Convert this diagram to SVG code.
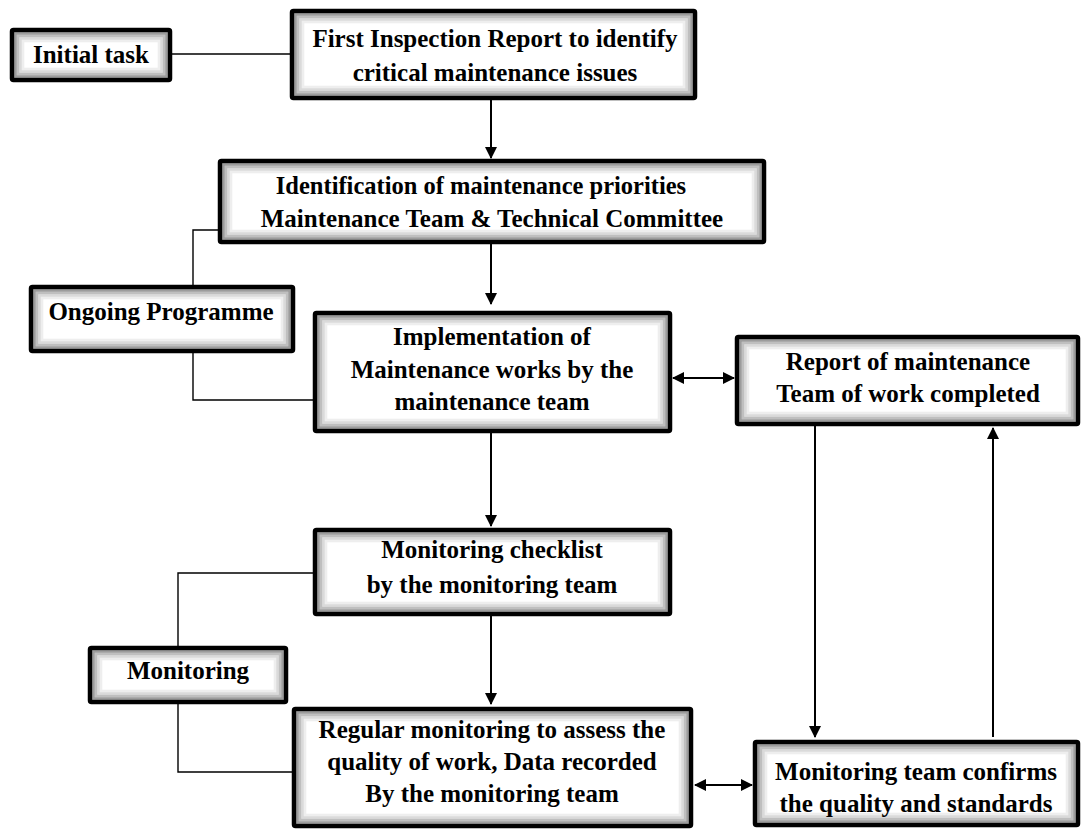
<svg xmlns="http://www.w3.org/2000/svg" width="1082" height="830" viewBox="0 0 1082 830">
  <defs>
    <style>
      .box-fill { fill: #ffffff; stroke: none; }
      .box-edge { fill: none; stroke: #000; stroke-width: 4.5; }
      /* graded inner shading: darker next to the frame, fading towards the centre */
      .sh1 { fill: none; stroke: #9c9c9c; stroke-width: 2.6; }
      .sh2 { fill: none; stroke: #bfbfbf; stroke-width: 2.6; }
      .sh3 { fill: none; stroke: #dadada; stroke-width: 2.6; }
      .sh4 { fill: none; stroke: #eeeeee; stroke-width: 2.6; }
      .label { font-family: "Liberation Serif", "Times New Roman", serif; font-weight: bold; font-size: 25px; fill: #000; text-anchor: middle; }
      .link { fill: none; stroke: #000; stroke-width: 1.4; }
      .flow { fill: none; stroke: #000; stroke-width: 2; }
    </style>
    <marker id="head" viewBox="0 0 12 12" refX="11" refY="6" markerWidth="12" markerHeight="12" markerUnits="userSpaceOnUse" orient="auto-start-reverse">
      <path d="M0,0 L12,6 L0,12 Z" fill="#000"/>
    </marker>
  </defs>

  <rect width="1082" height="830" fill="#ffffff"/>

  <!-- connectors -->
  <g id="connectors">
    <line class="link" x1="172" y1="54" x2="290" y2="54"/>
    <line class="flow" x1="491" y1="100" x2="491" y2="158" marker-end="url(#head)"/>
    <line class="flow" x1="491" y1="244" x2="491" y2="304" marker-end="url(#head)"/>
    <polyline class="link" points="218,230 193,230 193,285"/>
    <polyline class="link" points="193,353 193,400 313,400"/>
    <line class="flow" x1="673" y1="378" x2="734" y2="378" marker-start="url(#head)" marker-end="url(#head)"/>
    <line class="flow" x1="491" y1="433" x2="491" y2="526" marker-end="url(#head)"/>
    <line class="flow" x1="491" y1="616" x2="491" y2="704" marker-end="url(#head)"/>
    <polyline class="link" points="313,573 178,573 178,646"/>
    <polyline class="link" points="178,704 178,772 292,772"/>
    <line class="flow" x1="815" y1="426" x2="815" y2="737" marker-end="url(#head)"/>
    <line class="flow" x1="993" y1="737" x2="993" y2="428" marker-end="url(#head)"/>
    <line class="flow" x1="695" y1="785" x2="752" y2="785" marker-start="url(#head)" marker-end="url(#head)"/>
  </g>

  <!-- nodes -->
  <g id="initial-task">
    <rect class="box-fill" x="12" y="30" width="158" height="50"/>
    <rect class="sh4" x="23" y="41" width="136" height="28"/>
    <rect class="sh3" x="20.5" y="38.5" width="141" height="33"/>
    <rect class="sh2" x="18" y="36" width="146" height="38"/>
    <rect class="sh1" x="15.5" y="33.5" width="151" height="43"/>
    <rect class="box-edge" x="12" y="30" width="158" height="50" rx="1.5"/>
    <text class="label" x="91" y="63">Initial task</text>
  </g>

  <g id="first-inspection">
    <rect class="box-fill" x="292" y="11" width="403" height="87"/>
    <rect class="sh4" x="303" y="22" width="381" height="65"/>
    <rect class="sh3" x="300.5" y="19.5" width="386" height="70"/>
    <rect class="sh2" x="298" y="17" width="391" height="75"/>
    <rect class="sh1" x="295.5" y="14.5" width="396" height="80"/>
    <rect class="box-edge" x="292" y="11" width="403" height="87" rx="1.5"/>
    <text class="label" x="495" y="47">First Inspection Report to identify</text>
    <text class="label" x="495" y="81">critical maintenance issues</text>
  </g>

  <g id="priorities">
    <rect class="box-fill" x="220" y="161" width="544" height="81"/>
    <rect class="sh4" x="231" y="172" width="522" height="59"/>
    <rect class="sh3" x="228.5" y="169.5" width="527" height="64"/>
    <rect class="sh2" x="226" y="167" width="532" height="69"/>
    <rect class="sh1" x="223.5" y="164.5" width="537" height="74"/>
    <rect class="box-edge" x="220" y="161" width="544" height="81" rx="1.5"/>
    <text class="label" x="481" y="194" style="font-size:24.5px">Identification of maintenance priorities</text>
    <text class="label" x="492" y="227">Maintenance Team &amp; Technical Committee</text>
  </g>

  <g id="ongoing-programme">
    <rect class="box-fill" x="31" y="287" width="262" height="64"/>
    <rect class="sh4" x="42" y="298" width="240" height="42"/>
    <rect class="sh3" x="39.5" y="295.5" width="245" height="47"/>
    <rect class="sh2" x="37" y="293" width="250" height="52"/>
    <rect class="sh1" x="34.5" y="290.5" width="255" height="57"/>
    <rect class="box-edge" x="31" y="287" width="262" height="64" rx="1.5"/>
    <text class="label" x="161" y="320">Ongoing Programme</text>
  </g>

  <g id="implementation">
    <rect class="box-fill" x="315" y="313" width="355" height="118"/>
    <rect class="sh4" x="326" y="324" width="333" height="96"/>
    <rect class="sh3" x="323.5" y="321.5" width="338" height="101"/>
    <rect class="sh2" x="321" y="319" width="343" height="106"/>
    <rect class="sh1" x="318.5" y="316.5" width="348" height="111"/>
    <rect class="box-edge" x="315" y="313" width="355" height="118" rx="1.5"/>
    <text class="label" x="492" y="345">Implementation of</text>
    <text class="label" x="492" y="378">Maintenance works by the</text>
    <text class="label" x="492" y="410">maintenance team</text>
  </g>

  <g id="work-report">
    <rect class="box-fill" x="737" y="337" width="341" height="87"/>
    <rect class="sh4" x="748" y="348" width="319" height="65"/>
    <rect class="sh3" x="745.5" y="345.5" width="324" height="70"/>
    <rect class="sh2" x="743" y="343" width="329" height="75"/>
    <rect class="sh1" x="740.5" y="340.5" width="334" height="80"/>
    <rect class="box-edge" x="737" y="337" width="341" height="87" rx="1.5"/>
    <text class="label" x="908" y="370">Report of maintenance</text>
    <text class="label" x="908" y="402">Team of work completed</text>
  </g>

  <g id="checklist">
    <rect class="box-fill" x="315" y="530" width="355" height="84"/>
    <rect class="sh4" x="326" y="541" width="333" height="62"/>
    <rect class="sh3" x="323.5" y="538.5" width="338" height="67"/>
    <rect class="sh2" x="321" y="536" width="343" height="72"/>
    <rect class="sh1" x="318.5" y="533.5" width="348" height="77"/>
    <rect class="box-edge" x="315" y="530" width="355" height="84" rx="1.5"/>
    <text class="label" x="492" y="558">Monitoring checklist</text>
    <text class="label" x="492" y="593">by the monitoring team</text>
  </g>

  <g id="monitoring">
    <rect class="box-fill" x="90" y="648" width="196" height="54"/>
    <rect class="sh4" x="101" y="659" width="174" height="32"/>
    <rect class="sh3" x="98.5" y="656.5" width="179" height="37"/>
    <rect class="sh2" x="96" y="654" width="184" height="42"/>
    <rect class="sh1" x="93.5" y="651.5" width="189" height="47"/>
    <rect class="box-edge" x="90" y="648" width="196" height="54" rx="1.5"/>
    <text class="label" x="188" y="679">Monitoring</text>
  </g>

  <g id="regular-monitoring">
    <rect class="box-fill" x="294" y="709" width="397" height="117"/>
    <rect class="sh4" x="305" y="720" width="375" height="95"/>
    <rect class="sh3" x="302.5" y="717.5" width="380" height="100"/>
    <rect class="sh2" x="300" y="715" width="385" height="105"/>
    <rect class="sh1" x="297.5" y="712.5" width="390" height="110"/>
    <rect class="box-edge" x="294" y="709" width="397" height="117" rx="1.5"/>
    <text class="label" x="492" y="738">Regular monitoring to assess the</text>
    <text class="label" x="492" y="770">quality of work, Data recorded</text>
    <text class="label" x="492" y="802">By the monitoring team</text>
  </g>

  <g id="quality-confirmed">
    <rect class="box-fill" x="755" y="742" width="323" height="83"/>
    <rect class="sh4" x="766" y="753" width="301" height="61"/>
    <rect class="sh3" x="763.5" y="750.5" width="306" height="66"/>
    <rect class="sh2" x="761" y="748" width="311" height="71"/>
    <rect class="sh1" x="758.5" y="745.5" width="316" height="76"/>
    <rect class="box-edge" x="755" y="742" width="323" height="83" rx="1.5"/>
    <text class="label" x="916" y="780">Monitoring team confirms</text>
    <text class="label" x="916" y="812">the quality and standards</text>
  </g>
</svg>
